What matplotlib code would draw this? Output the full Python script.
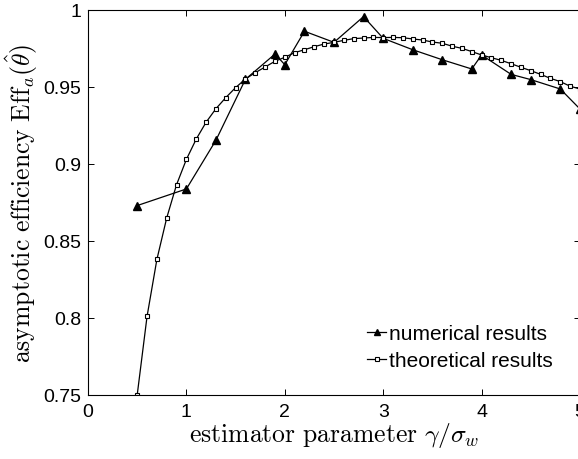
import matplotlib
matplotlib.use("Agg")
import matplotlib.pyplot as plt

# theoretical results (open squares)
theo_x = [0.5, 0.6, 0.7, 0.8, 0.9, 1.0, 1.1, 1.2, 1.3, 1.4, 1.5, 1.6, 1.7, 1.8, 1.9,
          2.0, 2.1, 2.2, 2.3, 2.4, 2.5, 2.6, 2.7, 2.8, 2.9, 3.0, 3.1, 3.2, 3.3, 3.4,
          3.5, 3.6, 3.7, 3.8, 3.9, 4.0, 4.1, 4.2, 4.3, 4.4, 4.5, 4.6, 4.7, 4.8, 4.9, 5.0]
theo_y = [0.750, 0.801, 0.838, 0.865, 0.8866, 0.903, 0.9162, 0.9271, 0.9359, 0.9431,
          0.9496, 0.9552, 0.9593, 0.9630, 0.9667, 0.9693, 0.9723, 0.9742, 0.9762, 0.9779,
          0.9790, 0.9803, 0.9814, 0.9818, 0.9822, 0.9821, 0.9822, 0.9820, 0.9812, 0.9805,
          0.9792, 0.9784, 0.9765, 0.9751, 0.9730, 0.9708, 0.9690, 0.9673, 0.9651, 0.9628,
          0.9606, 0.9582, 0.9556, 0.9535, 0.9505, 0.9487]

# numerical results (filled triangles)
num_x = [0.5, 1.0, 1.3, 1.6, 1.9, 2.0, 2.2, 2.5, 2.8, 3.0, 3.3, 3.6, 3.9, 4.0, 4.3, 4.5, 4.8, 5.0]
num_y = [0.873, 0.8838, 0.9154, 0.955, 0.9714, 0.9645, 0.9862, 0.979, 0.9957, 0.9816,
         0.9742, 0.9677, 0.9617, 0.9708, 0.9582, 0.9548, 0.9487, 0.9357]

xticks = [0, 1, 2, 3, 4, 5]
yticks = [0.75, 0.8, 0.85, 0.9, 0.95, 1.0]
yticklabels = ["0.75", "0.8", "0.85", "0.9", "0.95", "1"]

plt.rcParams['mathtext.fontset'] = 'cm'
plt.rcParams['font.family'] = ['Liberation Sans', 'DejaVu Sans']

fig = plt.figure(figsize=(5.78, 4.60), dpi=100)
ax = fig.add_axes([88/578, 1-396/460, 492/578, 385/460])

ax.plot(num_x, num_y, color='black', lw=0.9, marker='^', ms=5.2,
        mfc='black', mec='black', label='numerical results')
ax.plot(theo_x, theo_y, color='black', lw=0.9, marker='s', ms=3.5,
        mfc='white', mec='black', mew=0.8, label='theoretical results')

ax.set_xlim(0, 5)
ax.set_ylim(0.75, 1.0)
ax.set_xticks(xticks)
ax.set_xticklabels([str(t) for t in xticks])
ax.set_yticks(yticks)
ax.set_yticklabels(yticklabels)
ax.tick_params(direction='in', labelsize=14, length=4, width=0.7,
               top=True, right=True)
ax.tick_params(axis='x', pad=6)
ax.tick_params(axis='y', pad=5)
for s in ax.spines.values():
    s.set_linewidth(0.8)

ax.set_xlabel(r'$\mathrm{estimator\ parameter}\ \gamma/\sigma_w$', fontsize=18.5, labelpad=0)
ax.set_ylabel(r'$\mathrm{asymptotic\ efficiency\ Eff}_a(\hat{\theta})$', fontsize=18.5, labelpad=2)

leg = ax.legend(loc='lower right', bbox_to_anchor=(0.945, 0.065), frameon=False,
                fontsize=15, handlelength=0.9, handletextpad=0.15, labelspacing=0.38,
                markerscale=0.7, borderpad=0, borderaxespad=0)

fig.savefig('out.png', dpi=100)
